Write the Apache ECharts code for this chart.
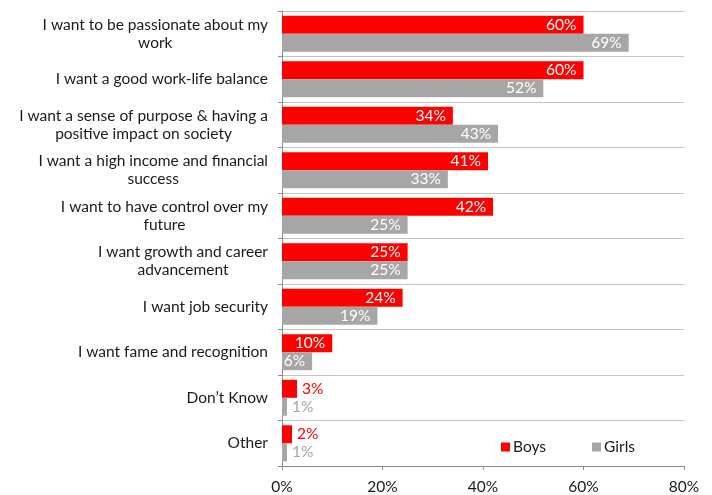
<!DOCTYPE html>
<html>
<head>
<meta charset="utf-8">
<script src="https://cdn.jsdelivr.net/npm/echarts@6/dist/echarts.min.js"></script>
<style>
  html, body { margin: 0; padding: 0; background: #fff; }
  #chart { width: 712px; height: 495px; }
</style>
</head>
<body>
<div id="chart"></div>
<script>
// Reasons young people give for their career choices, by gender (share of respondents)
const categories = [
  'I want to be passionate about my\nwork',
  'I want a good work-life balance',
  'I want a sense of purpose & having a\npositive impact on society',
  'I want a high income and financial\nsuccess',
  'I want to have control over my\nfuture',
  'I want growth and career\nadvancement',
  'I want job security',
  'I want fame and recognition',
  'Don’t Know',
  'Other'
];
const boys = [60, 60, 34, 41, 42, 25, 24, 10, 3, 2];
const girls = [69, 52, 43, 33, 25, 25, 19, 6, 1, 1];
const valueTicks = [0, 20, 40, 60, 80];

const FONT = 'Lato, "DejaVu Sans", sans-serif';
const FS = 15.5;
const RED = '#ff0000';
const GREY = '#a6a6a6';

// Small bars carry their label outside the bar, in the bar's own colour
function labelled(values, color) {
  return values.map(v => ({
    value: v,
    label: v < 5
      ? { position: 'right', color: color, distance: 5 }
      : { position: 'insideRight', color: '#ffffff', distance: 7 }
  }));
}

const chart = echarts.init(document.getElementById('chart'), null, { renderer: 'canvas' });

chart.setOption({
  animation: false,
  backgroundColor: '#ffffff',
  textStyle: { fontFamily: FONT },
  grid: { left: 282, top: 11, width: 402, height: 457, containLabel: false },
  legend: {
    data: ['Boys', 'Girls'],
    left: 496,
    top: 434,
    itemWidth: 9,
    itemHeight: 9,
    itemGap: 46,
    icon: 'rect',
    textStyle: { fontFamily: FONT, fontSize: FS, color: '#1a1a1a', padding: [0, 0, 0, -2] }
  },
  xAxis: {
    type: 'value',
    min: valueTicks[0],
    max: valueTicks[valueTicks.length - 1],
    interval: 20,
    axisLine: { show: true, lineStyle: { color: '#8c8c8c', width: 1 } },
    axisTick: { show: true, length: 4, lineStyle: { color: '#8c8c8c' } },
    splitLine: { show: false },
    axisLabel: {
      margin: 13,
      fontFamily: FONT,
      fontSize: FS,
      color: '#1a1a1a',
      formatter: v => v + '%'
    }
  },
  yAxis: {
    type: 'category',
    inverse: true,
    data: categories,
    axisLine: { show: true, lineStyle: { color: '#8c8c8c', width: 1 } },
    axisTick: { show: true, length: 4, lineStyle: { color: '#8c8c8c' } },
    splitLine: { show: true, lineStyle: { color: '#c4c4c4', width: 1 } },
    axisLabel: {
      margin: 14,
      fontFamily: FONT,
      fontSize: FS,
      color: '#1a1a1a',
      lineHeight: 18,
      align: 'right',
      formatter: v => v.split('\n').map(s => '{c|' + s + '}').join('\n'),
      rich: {
        c: { align: 'center', fontFamily: FONT, fontSize: FS, color: '#1a1a1a', lineHeight: 18 }
      }
    }
  },
  series: [
    {
      name: 'Boys',
      type: 'bar',
      data: labelled(boys, RED),
      itemStyle: { color: RED },
      barGap: '0%',
      barCategoryGap: '21%',
      label: { show: true, fontFamily: FONT, fontSize: FS, formatter: p => p.value + '%' }
    },
    {
      name: 'Girls',
      type: 'bar',
      data: labelled(girls, GREY),
      itemStyle: { color: GREY },
      barGap: '0%',
      barCategoryGap: '21%',
      label: { show: true, fontFamily: FONT, fontSize: FS, formatter: p => p.value + '%' }
    }
  ]
});
</script>
</body>
</html>
